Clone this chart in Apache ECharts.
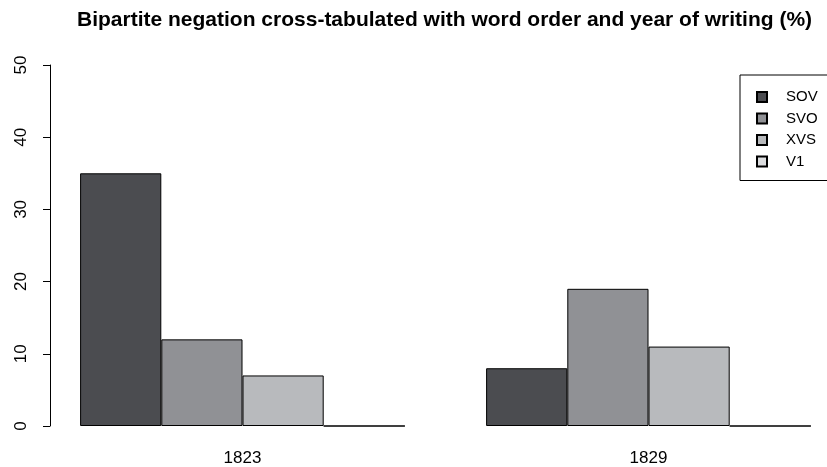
<!DOCTYPE html>
<html>
<head>
<meta charset="utf-8">
<script src="https://cdn.jsdelivr.net/npm/echarts@6/dist/echarts.min.js"></script>
<style>
html,body{margin:0;padding:0;background:#fff;}
#chart{width:827px;height:467px;}
</style>
</head>
<body>
<div id="chart"></div>
<script>
var categories = ['1823', '1829'];
var seriesNames = ['SOV', 'SVO', 'XVS', 'V1'];
var SOV = [35, 8];
var SVO = [12, 19];
var XVS = [7, 11];
var V1 = [0, 0];
var yTicks = [0, 10, 20, 30, 40, 50];
var colors = ['#4b4c50', '#909195', '#b8babd', '#dcdddf'];
var values = [SOV, SVO, XVS, V1];

var FONT = 'Liberation Sans, Arial, sans-serif';
var chart = echarts.init(document.getElementById('chart'), null, {renderer: 'canvas'});
var series = seriesNames.map(function (name, i) {
  return {
    name: name,
    type: 'bar',
    data: values[i],
    barGap: '0%',
    barCategoryGap: '20%',
    clip: false,
    itemStyle: {color: colors[i], borderColor: '#000', borderWidth: 1},
    emphasis: {disabled: true},
    animation: false
  };
});
chart.setOption({
  animation: false,
  backgroundColor: '#fff',
  title: {
    text: 'Bipartite negation cross-tabulated with word order and year of writing (%)',
    left: 72, top: 5,
    textStyle: {fontFamily: FONT, fontSize: 21, fontWeight: 'bold', color: '#000'}
  },
  legend: {
    orient: 'vertical',
    left: 740, top: 75,
    padding: [14, 20, 11, 16],
    borderColor: '#000', borderWidth: 1,
    itemWidth: 10, itemHeight: 10, itemGap: 5.5,
    icon: 'rect',
    data: seriesNames,
    textStyle: {fontFamily: FONT, fontSize: 15, color: '#000', lineHeight: 16, padding: [0, 0, 0, 14]}
  },
  grid: {left: 242.5, width: 406, top: 65, bottom: 41, containLabel: false},
  xAxis: {
    type: 'category',
    data: categories,
    boundaryGap: false,
    axisLine: {show: false},
    axisTick: {show: false},
    axisLabel: {fontFamily: FONT, fontSize: 17, color: '#000', margin: 24}
  },
  yAxis: {
    type: 'value',
    min: yTicks[0], max: yTicks[yTicks.length - 1], interval: 10,
    offset: 192.5,
    axisLine: {show: true, lineStyle: {color: '#000', width: 1}},
    axisTick: {show: true, length: 7, lineStyle: {color: '#000'}},
    splitLine: {show: false},
    axisLabel: {fontFamily: FONT, fontSize: 17, color: '#000', rotate: 90, margin: 20}
  },
  series: series
});
</script>
</body>
</html>
